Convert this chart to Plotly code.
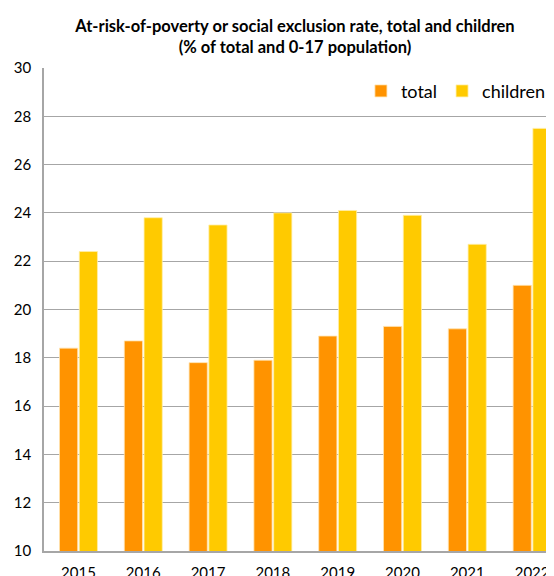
import plotly.graph_objects as go

years = ["2015", "2016", "2017", "2018", "2019", "2020", "2021", "2022"]
total = [18.4, 18.7, 17.8, 17.9, 18.9, 19.3, 19.2, 21.0]
children = [22.4, 23.8, 23.5, 24.0, 24.1, 23.9, 22.7, 27.5]

xpos = list(range(len(years)))
FONT = "Lato, 'Open Sans', sans-serif"

fig = go.Figure()
fig.add_trace(go.Bar(x=xpos, y=total, name="total",
                     marker=dict(color="#FF9300", line=dict(color="#FFE3B0", width=0.8))))
fig.add_trace(go.Bar(x=xpos, y=children, name="children",
                     marker=dict(color="#FFCA00", line=dict(color="#FFEFA8", width=0.8))))

fig.update_layout(
    width=546, height=568,
    margin=dict(l=36, r=0, t=60, b=25, autoexpand=False),
    paper_bgcolor="white", plot_bgcolor="white",
    barmode="group", bargap=0.39, bargroupgap=0.08,
    font=dict(family=FONT, size=15, color="black"),
    title=dict(
        text="<b>At-risk-of-poverty or social exclusion rate, total and children<br>(% of total and 0-17 population)</b>",
        x=0.5256, xanchor="center", yref="container", y=0.958, yanchor="top",
        font=dict(family=FONT, size=16.5, color="black"),
    ),
    legend=dict(orientation="h", x=0.994, xanchor="right", y=0.952, yanchor="middle",
                font=dict(family=FONT, size=18), itemwidth=30, bgcolor="rgba(0,0,0,0)",
                traceorder="normal"),
    showlegend=True,
)
fig.update_xaxes(
    range=[-0.532, 7.338], tickvals=xpos, ticktext=years, automargin=False,
    showline=True, linecolor="#A6A6A6", linewidth=1.5, showgrid=False,
    ticks="outside", ticklen=7, tickcolor="rgba(0,0,0,0)",
    tickfont=dict(family=FONT, size=15), zeroline=False,
)
fig.update_yaxes(
    range=[10, 30], dtick=2, tick0=10, automargin=False,
    showline=True, linecolor="#A6A6A6", linewidth=1.5,
    showgrid=True, gridcolor="#A6A6A6", gridwidth=1,
    ticks="outside", ticklen=8, tickcolor="rgba(0,0,0,0)",
    tickfont=dict(family=FONT, size=15), zeroline=False,
)

fig.write_html("out.html")
